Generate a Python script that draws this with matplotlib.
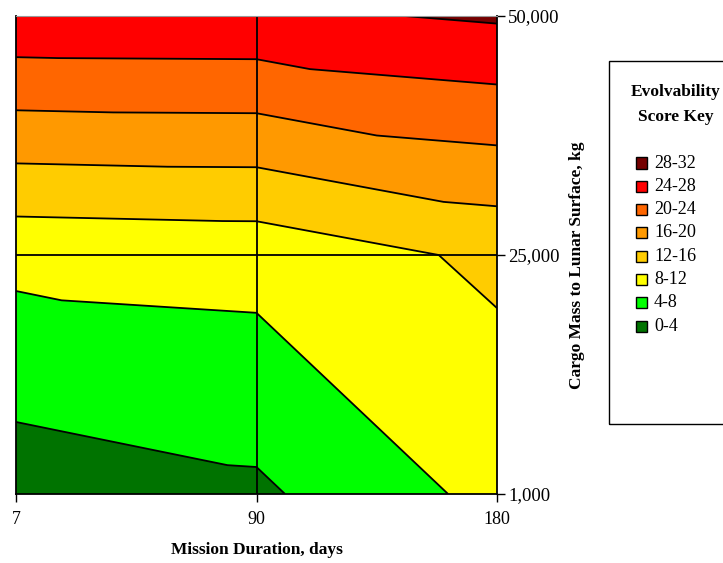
import matplotlib
matplotlib.use('Agg')

import matplotlib.pyplot as plt
import matplotlib.tri as mtri
import numpy as np
from matplotlib.patches import Rectangle

# Data (score at each grid node)
durations = ['7', '90', '180']
cargo_labels = ['1,000', '25,000', '50,000']
score_1000kg = [1.8, 3.3, 9.2]
score_25000kg = [9.1, 9.5, 12.8]
score_50000kg = [27.1, 27.2, 28.5]

levels = [0, 4, 8, 12, 16, 20, 24, 28, 32]
band_labels = ['0-4', '4-8', '8-12', '12-16', '16-20', '20-24', '24-28', '28-32']
band_colors = ['#007300', '#00FF00', '#FFFF00', '#FFCC00', '#FF9900',
               '#FF6600', '#FF0000', '#750000']

W, H = 723, 563
plt.rcParams['font.family'] = ['Liberation Serif', 'DejaVu Serif']

fig = plt.figure(figsize=(W / 100, H / 100), dpi=100)
ax = fig.add_axes([16 / W, 1 - 494 / H, 481 / W, 478 / H])

nx, ny = len(durations), len(cargo_labels)
X, Y = np.meshgrid(np.arange(nx), np.arange(ny))
Z = np.array([score_1000kg, score_25000kg, score_50000kg])

# Excel splits each cell along the top-left -> bottom-right diagonal
tris = []
for j in range(ny - 1):
    for i in range(nx - 1):
        bl, br = j * nx + i, j * nx + i + 1
        tl, tr = (j + 1) * nx + i, (j + 1) * nx + i + 1
        tris.append([tl, tr, br])
        tris.append([tl, bl, br])
tri = mtri.Triangulation(X.ravel(), Y.ravel(), tris)

ax.tricontourf(tri, Z.ravel(), levels=levels, colors=band_colors, antialiased=True)
ax.tricontour(tri, Z.ravel(), levels=levels[1:-1], colors='black', linewidths=1.3)

ax.axvline(1, color='black', lw=1.3)
ax.axhline(1, color='black', lw=1.3)

ax.set_xlim(0, nx - 1)
ax.set_ylim(0, ny - 1)
ax.set_xticks(np.arange(nx))
ax.set_xticklabels(durations)
ax.set_yticks(np.arange(ny))
ax.set_yticklabels(cargo_labels)
ax.yaxis.tick_right()
ax.tick_params(axis='x', direction='out', length=6, width=1, pad=6, labelsize=13)
ax.tick_params(axis='y', direction='out', length=6, width=1, pad=2, labelsize=13.5)
for s in ['left', 'bottom', 'right']:
    ax.spines[s].set_color('black')
    ax.spines[s].set_linewidth(1.3)
ax.spines['top'].set_color('#999999')

fig.text(257 / W, 1 - 550 / H, 'Mission Duration, days', ha='center', va='center',
         fontsize=12.5, fontweight='bold')
fig.text(577 / W, 1 - 265 / H, 'Cargo Mass to Lunar Surface, kg', ha='center',
         va='center', rotation=90, fontsize=12.5, fontweight='bold')

# Legend box (runs past the right edge as in the reference)
fig.add_artist(Rectangle((609 / W, 1 - 424 / H), 150 / W, 363 / H,
                         transform=fig.transFigure, fill=False, ec='black', lw=1))
fig.text(676 / W, 1 - 92 / H, 'Evolvability', ha='center', va='center',
         fontsize=12.5, fontweight='bold')
fig.text(676 / W, 1 - 117 / H, 'Score Key', ha='center', va='center',
         fontsize=12.5, fontweight='bold')
y0, dy = 163, 23.3
for k, (lab, col) in enumerate(zip(band_labels[::-1], band_colors[::-1])):
    yc = y0 + k * dy
    fig.add_artist(Rectangle((636 / W, 1 - (yc + 5.5) / H), 11 / W, 11 / H,
                             transform=fig.transFigure, fc=col, ec='black', lw=1))
    fig.text(654 / W, 1 - yc / H, lab, ha='left', va='center', fontsize=13)

fig.savefig('out.png', dpi=100)
